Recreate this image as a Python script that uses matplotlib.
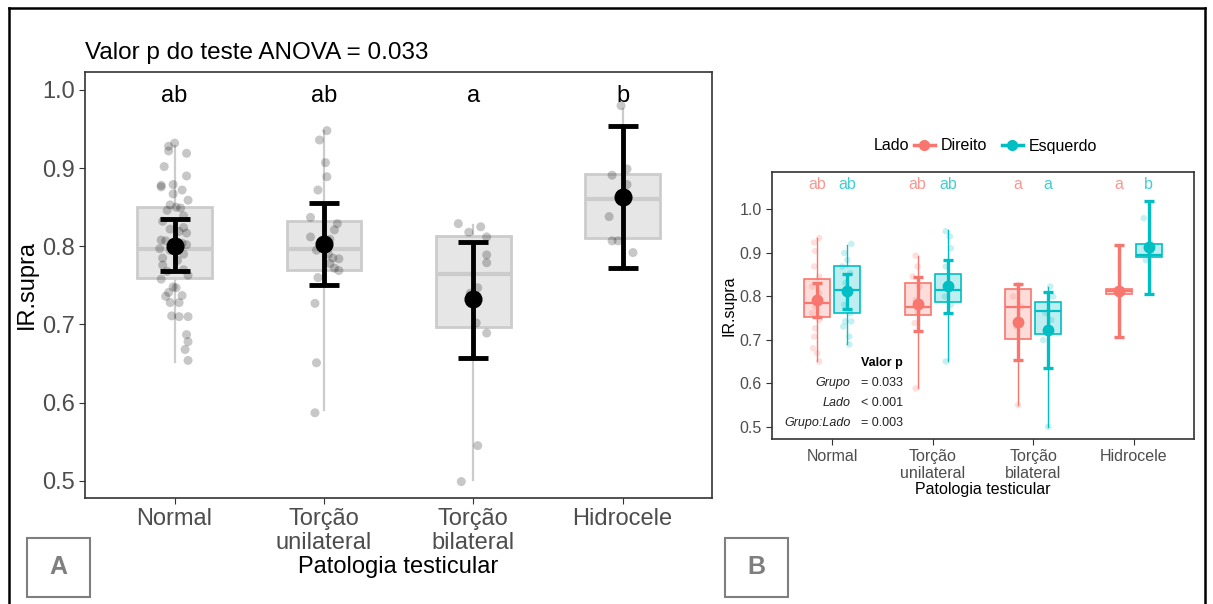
import matplotlib
matplotlib.use('Agg')
import matplotlib.pyplot as plt
from matplotlib.lines import Line2D
from matplotlib.patches import Rectangle
import numpy as np

plt.rcParams['font.family'] = ['Liberation Sans', 'DejaVu Sans']

groups = ['Normal', 'Torção\nunilateral', 'Torção\nbilateral', 'Hidrocele']
letters_a = ['ab', 'ab', 'a', 'b']
letters_dir = ['ab', 'ab', 'a', 'a']
letters_esq = ['ab', 'ab', 'a', 'b']

# painel A - resumo dos boxplots
a_q1 = [0.759, 0.770, 0.697, 0.810]
a_med = [0.797, 0.796, 0.765, 0.861]
a_q3 = [0.850, 0.833, 0.813, 0.893]
a_lo = [0.652, 0.591, 0.501, 0.791]
a_hi = [0.928, 0.947, 0.827, 0.976]
a_mean = [0.801, 0.803, 0.732, 0.863]
a_ci_lo = [0.768, 0.750, 0.657, 0.772]
a_ci_hi = [0.835, 0.855, 0.806, 0.954]

# painel A - pontos individuais e deslocamento (jitter)
a_pts = [
    [0.932, 0.928, 0.922, 0.919, 0.902, 0.890, 0.878, 0.876, 0.879, 0.872,
     0.867, 0.859, 0.853, 0.850, 0.849, 0.846, 0.839, 0.832, 0.824, 0.822,
     0.819, 0.817, 0.808, 0.807, 0.804, 0.802, 0.797, 0.795, 0.790, 0.785,
     0.782, 0.776, 0.770, 0.768, 0.763, 0.758, 0.748, 0.747, 0.741, 0.737,
     0.736, 0.728, 0.728, 0.711, 0.710, 0.710, 0.687, 0.678, 0.668, 0.654],
    [0.948, 0.936, 0.907, 0.889, 0.872, 0.837, 0.829, 0.821, 0.812, 0.809,
     0.804, 0.795, 0.790, 0.785, 0.784, 0.778, 0.772, 0.769, 0.760, 0.727,
     0.651, 0.587],
    [0.829, 0.818, 0.825, 0.812, 0.789, 0.779, 0.747, 0.740, 0.702, 0.689,
     0.545, 0.499],
    [0.980, 0.891, 0.899, 0.879, 0.838, 0.807, 0.807, 0.792],
]
a_jit = [
    [0.00, -0.04, -0.04, 0.08, -0.07, 0.08, -0.09, -0.09, -0.01, 0.05,
     -0.01, 0.09, -0.03, 0.01, 0.04, -0.05, 0.06, -0.08, 0.06, -0.03,
     0.03, 0.08, -0.09, -0.06, 0.05, 0.08, -0.10, -0.03, 0.06, -0.08,
     0.02, -0.08, 0.06, -0.05, 0.09, -0.09, -0.01, 0.01, -0.04, 0.05,
     -0.06, -0.03, 0.03, -0.02, 0.03, 0.09, 0.08, 0.09, 0.07, 0.09],
    [0.02, -0.03, 0.01, 0.02, -0.04, -0.09, 0.09, 0.07, -0.09, 0.04,
     -0.02, -0.05, 0.03, 0.06, 0.10, 0.04, 0.07, 0.10, -0.04, -0.06,
     -0.05, -0.06],
    [-0.10, -0.03, 0.05, 0.09, 0.09, 0.09, 0.03, -0.02, 0.02, 0.09,
     0.03, -0.08],
    [-0.01, -0.07, 0.03, 0.03, -0.09, -0.07, -0.03, 0.07],
]

# painel B - lado direito
d_q1 = [0.752, 0.757, 0.702, 0.805]
d_med = [0.785, 0.775, 0.775, 0.811]
d_q3 = [0.839, 0.831, 0.817, 0.817]
d_lo = [0.650, 0.588, 0.550, 0.805]
d_hi = [0.933, 0.893, 0.828, 0.817]
d_mean = [0.791, 0.781, 0.740, 0.811]
d_ci_lo = [0.753, 0.721, 0.653, 0.706]
d_ci_hi = [0.831, 0.844, 0.828, 0.918]

# painel B - lado esquerdo
e_q1 = [0.762, 0.787, 0.712, 0.889]
e_med = [0.814, 0.814, 0.765, 0.895]
e_q3 = [0.870, 0.850, 0.787, 0.920]
e_lo = [0.689, 0.650, 0.500, 0.880]
e_hi = [0.918, 0.952, 0.822, 0.979]
e_mean = [0.811, 0.824, 0.722, 0.912]
e_ci_lo = [0.771, 0.761, 0.636, 0.805]
e_ci_hi = [0.850, 0.883, 0.809, 1.019]

d_pts = [
    [0.933, 0.923, 0.903, 0.868, 0.845, 0.822, 0.807, 0.776, 0.761, 0.745,
     0.726, 0.707, 0.680, 0.669, 0.650],
    [0.893, 0.868, 0.845, 0.822, 0.791, 0.765, 0.738, 0.588],
    [0.826, 0.799, 0.776, 0.730, 0.550],
    [0.811, 0.815, 0.806],
]
d_jit = [
    [0.02, -0.03, -0.02, -0.03, 0.02, -0.05, 0.02, -0.02, -0.05, 0.02,
     -0.02, -0.03, -0.04, 0.00, 0.02],
    [-0.02, 0.00, -0.05, 0.02, -0.02, 0.00, -0.03, -0.02],
    [0.00, -0.05, 0.03, -0.02, 0.00],
    [0.00, -0.03, 0.03],
]
e_pts = [
    [0.920, 0.899, 0.883, 0.868, 0.853, 0.830, 0.807, 0.780, 0.761, 0.742,
     0.742, 0.730, 0.707, 0.689],
    [0.949, 0.937, 0.910, 0.868, 0.822, 0.799, 0.780, 0.650],
    [0.822, 0.799, 0.761, 0.745, 0.699, 0.500],
    [0.979, 0.920, 0.883, 0.899, 0.910],
]
e_jit = [
    [0.04, -0.03, 0.00, -0.05, 0.03, -0.02, 0.02, -0.03, 0.03, -0.02,
     0.04, -0.04, 0.02, 0.02],
    [-0.02, 0.02, 0.03, -0.02, 0.02, -0.03, 0.03, -0.02],
    [0.02, 0.05, -0.03, 0.03, -0.05, 0.00],
    [-0.05, 0.02, -0.03, 0.02, -0.02],
]

RED = '#F8766D'
TEAL = '#00BFC4'
TICK_GRAY = '#4D4D4D'

fig = plt.figure(figsize=(12.13, 6.04), dpi=100)
pos = np.arange(1, len(groups) + 1)


def box_stats(q1, med, q3, lo, hi):
    return [dict(q1=a, med=b, q3=c, whislo=d, whishi=e, fliers=[])
            for a, b, c, d, e in zip(q1, med, q3, lo, hi)]


def style_axes(ax, fs):
    for s in ax.spines.values():
        s.set_color('#333333')
        s.set_linewidth(1.2)
    ax.tick_params(colors='#333333', labelcolor=TICK_GRAY, labelsize=fs, length=4)
    ax.set_xticks(pos)
    ax.set_xticklabels(groups, linespacing=1.1)
    ax.set_yticks([0.5, 0.6, 0.7, 0.8, 0.9, 1.0])
    ax.set_yticklabels(['0.5', '0.6', '0.7', '0.8', '0.9', '1.0'])
    ax.set_xlim(0.4, 4.6)


# ---------------- painel A ----------------
axA = fig.add_axes([0.0701, 0.1755, 0.517, 0.7053])
axA.bxp(box_stats(a_q1, a_med, a_q3, a_lo, a_hi), positions=pos, widths=0.5,
        patch_artist=True, showfliers=False, showcaps=False,
        boxprops=dict(facecolor='#E6E6E6', edgecolor='#CCCCCC', linewidth=2),
        medianprops=dict(color='#CCCCCC', linewidth=3),
        whiskerprops=dict(color='#CCCCCC', linewidth=1.6))
for i, (vals, jit) in enumerate(zip(a_pts, a_jit)):
    axA.scatter(pos[i] + np.array(jit), vals, s=42, color='black', alpha=0.22,
                edgecolors='none', zorder=3)
axA.errorbar(pos, a_mean,
             yerr=[np.array(a_mean) - np.array(a_ci_lo), np.array(a_ci_hi) - np.array(a_mean)],
             fmt='o', color='black', ms=12, lw=3.5, capsize=11, capthick=3.5, zorder=4)
for x, lab in zip(pos, letters_a):
    axA.text(x, 0.985, lab, ha='center', va='baseline', fontsize=17, color='black')
axA.set_ylim(0.478, 1.023)
style_axes(axA, 17)
axA.set_title('Valor p do teste ANOVA = 0.033', loc='left', fontsize=17.5, pad=9)
axA.set_xlabel('Patologia testicular', fontsize=17, labelpad=1)
axA.set_ylabel('IR.supra', fontsize=17, labelpad=3)

# ---------------- painel B ----------------
axB = fig.add_axes([0.6364, 0.2732, 0.3479, 0.4421])
dodge = 0.15
sides = [
    (-dodge, RED, (d_q1, d_med, d_q3, d_lo, d_hi), d_mean, d_ci_lo, d_ci_hi, d_pts, d_jit, letters_dir),
    (dodge, TEAL, (e_q1, e_med, e_q3, e_lo, e_hi), e_mean, e_ci_lo, e_ci_hi, e_pts, e_jit, letters_esq),
]
for off, col, st, mean, lo, hi, pts, jit, lets in sides:
    p = pos + off
    axB.bxp(box_stats(*st), positions=p, widths=0.26, patch_artist=True,
            showfliers=False, showcaps=False,
            boxprops=dict(facecolor=matplotlib.colors.to_rgba(col, 0.25), edgecolor=col, linewidth=1.2),
            medianprops=dict(color=col, linewidth=1.6),
            whiskerprops=dict(color=col, linewidth=1.0))
    for i, (vals, j) in enumerate(zip(pts, jit)):
        axB.scatter(p[i] + np.array(j), vals, s=22, color=col, alpha=0.22,
                    edgecolors='none', zorder=3)
    axB.errorbar(p, mean,
                 yerr=[np.array(mean) - np.array(lo), np.array(hi) - np.array(mean)],
                 fmt='o', color=col, ms=7.5, lw=2.4, capsize=3.5, capthick=2.4, zorder=4)
    for x, lab in zip(p, lets):
        axB.text(x, 1.046, lab, ha='center', va='baseline', fontsize=11.5,
                 color=col, alpha=0.75)
axB.set_ylim(0.472, 1.085)
style_axes(axB, 11.5)
axB.set_xlabel('Patologia testicular', fontsize=11.5, labelpad=1)
axB.set_ylabel('IR.supra', fontsize=11.5, labelpad=2)

# tabela de valores p
axB.text(1.70, 0.646, 'Valor p', ha='right', va='center', fontsize=9, fontweight='bold')
p_terms = ['Grupo', 'Lado', 'Grupo:Lado']
p_vals = ['= 0.033', '< 0.001', '= 0.003']
p_rows = [0.600, 0.554, 0.508]
for term, val, yy in zip(p_terms, p_vals, p_rows):
    axB.text(1.18, yy, term, ha='right', va='center', fontsize=9, style='italic', color='#222222')
    axB.text(1.29, yy, val, ha='left', va='center', fontsize=9, color='#222222')

# legenda
fig.text(874 / 1213, 1 - 146 / 604, 'Lado', ha='left', va='center', fontsize=11.5)
handles = [Line2D([0], [0], color=RED, marker='o', ms=7, lw=2.5),
           Line2D([0], [0], color=TEAL, marker='o', ms=7, lw=2.5)]
fig.legend(handles, ['Direito', 'Esquerdo'], loc='center left',
           bbox_to_anchor=(914 / 1213, 1 - 146 / 604), ncol=2, frameon=False,
           fontsize=11.5, handlelength=1.3, handletextpad=0.4, columnspacing=0.9,
           borderpad=0, borderaxespad=0)

# moldura externa e rótulos dos painéis
for xs, ys in [([9, 9], [8, 604]), ([9, 1205], [8, 8]), ([1205, 1205], [8, 604])]:
    fig.add_artist(Line2D([x / 1213 for x in xs], [1 - y / 604 for y in ys],
                          color='black', lw=1.8))
for lab, x0 in [('A', 27), ('B', 725)]:
    fig.add_artist(Rectangle((x0 / 1213, 1 - 597 / 604), 63 / 1213, 59 / 604,
                             transform=fig.transFigure, fill=False,
                             edgecolor='#7F7F7F', lw=1.5))
    fig.text((x0 + 31.5) / 1213, 1 - 567.5 / 604, lab, ha='center', va='center',
             fontsize=18, fontweight='bold', color='#7F7F7F')

fig.savefig('out.png', dpi=100)
